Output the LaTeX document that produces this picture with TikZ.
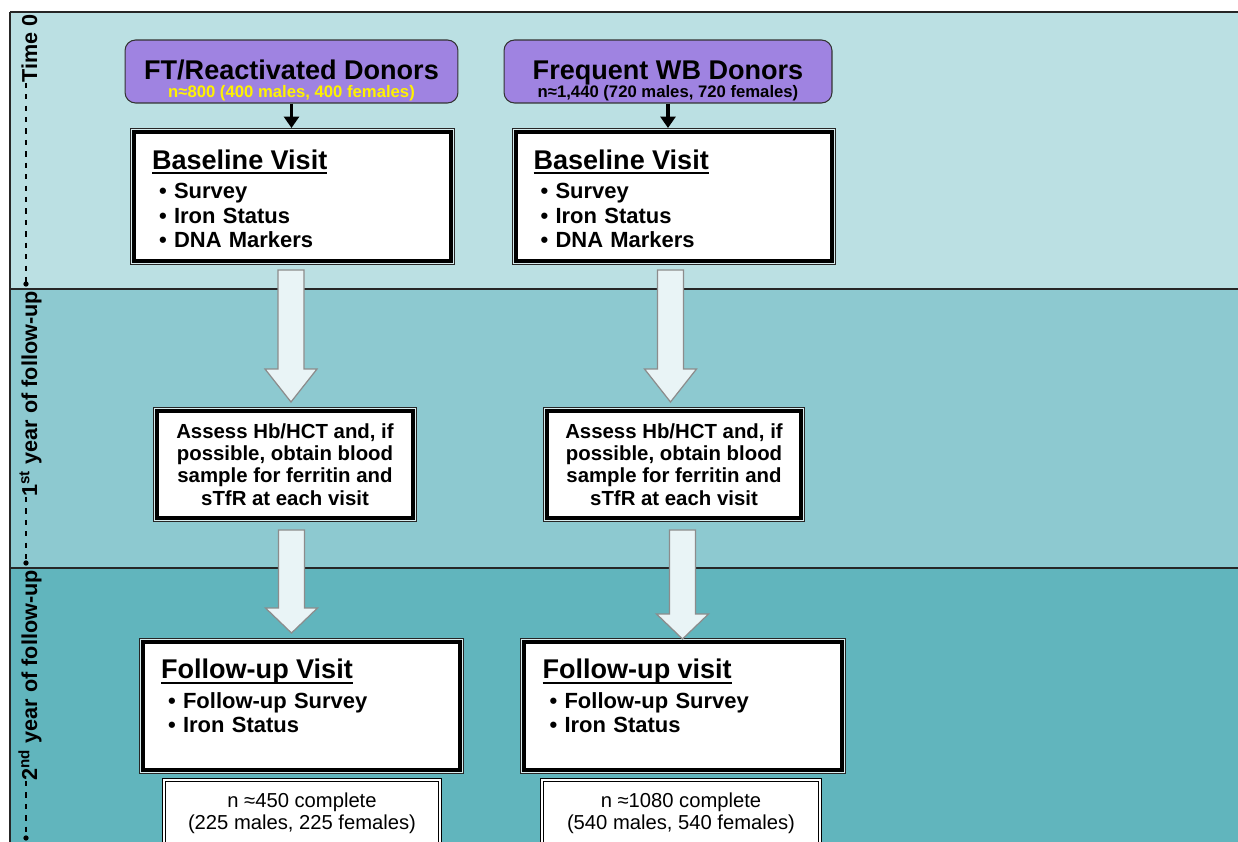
\documentclass[tikz,border=0pt]{standalone}
\usepackage{fontspec}
\setmainfont{Liberation Sans}
\usetikzlibrary{arrows.meta,calc}

\definecolor{bandA}{HTML}{BBE0E3}
\definecolor{bandB}{HTML}{8DC9D0}
\definecolor{bandC}{HTML}{61B5BD}
\definecolor{donorpurple}{HTML}{9F83E1}
\definecolor{shaftfill}{HTML}{E9F4F6}
\definecolor{framegap}{HTML}{D8ECEE}

\newcommand{\titlefont}{\fontsize{15.4}{17}\selectfont}
\newcommand{\dotitem}{\hspace*{4pt}\textbullet\ }
\newcommand{\titleul}[1]{\setbox0\hbox{#1}\rlap{\rule[-2.8pt]{\wd0}{1.1pt}}\box0}

% block arrow: x, from node, to node, top gap, tip shift, head length
\newcommand{\blockarrow}[6]{%
  \path (#1,0 |- #2.south) ++(0,#4) coordinate (ba-top)
        (#1,0 |- #3.north) ++(0,#5) coordinate (ba-tip);
  \draw[blockarr] ($(ba-top)+(-13,0)$) -- ($(ba-tip)+(-13,-#6)$) -- ($(ba-tip)+(-26,-#6)$)
    -- (ba-tip) -- ($(ba-tip)+(26,-#6)$) -- ($(ba-tip)+(13,-#6)$) -- ($(ba-top)+(13,0)$) -- cycle;}

\begin{document}
\begin{tikzpicture}[x=0.02cm, y=-0.02cm,
    bandline/.style={draw=black!85, line width=1pt},
    timeline/.style={black, line width=0.8pt, dash pattern=on 3pt off 3.5pt},
    timelabel/.style={rotate=90, anchor=base east, inner sep=0pt, font=\fontsize{12.3}{14}\selectfont\bfseries},
    donors/.style={draw=black!80, line width=0.6pt, fill=donorpurple, rounded corners=6pt, align=center,
        inner sep=1pt, minimum height=1.26cm, font=\fontsize{9.5}{10.2}\selectfont\bfseries},
    frame/.style={draw=black, line width=2.3pt, fill=white, outer sep=0pt, inner sep=0pt,
        preaction={draw=black!85, line width=0.55pt, double=framegap, double distance=3.6pt}},
    visit/.style={frame, minimum width=6.34cm, minimum height=2.58cm, text width=5.62cm, align=left,
        font=\fontsize{12.5}{13.9}\selectfont\bfseries},
    assess/.style={frame, minimum width=5.12cm, minimum height=2.14cm, align=center,
        font=\fontsize{11.6}{12.65}\selectfont\bfseries},
    complete/.style={draw=black, line width=0.5pt, double=white, double distance=1.3pt, fill=white,
        outer sep=0pt, anchor=north, inner xsep=0pt, inner ysep=7.5pt, align=center,
        font=\fontsize{11.5}{12.5}\selectfont},
    donorarrow/.style={-{Triangle[width=8.5pt,length=6.5pt]}, line width=2.2pt},
    blockarr/.style={draw=black!45, line width=0.7pt, fill=shaftfill}]

\useasboundingbox (0,0) rectangle (1238,842);
\clip (0,0) rectangle (1238,842);

% time bands
\fill[bandA] (10,12) rectangle (1238,289);
\fill[bandB] (10,289) rectangle (1238,568);
\fill[bandC] (10,568) rectangle (1238,842);
\draw[bandline] (10,12) -- (1238,12);
\draw[bandline] (10,289) -- (1238,289);
\draw[bandline] (10,568) -- (1238,568);
\draw[black!85, line width=0.6pt] (10,12) -- (10,842);

% time line
\coordinate (d1) at (26,284);
\coordinate (d2) at (26,563);
\coordinate (d3) at (26,838);
\node[timelabel] (t0) at (37,14) {Time 0};
\node[timelabel] (t1) at (37,291) {1\textsuperscript{st} year of follow-up};
\node[timelabel] (t2) at (37,570) {2\textsuperscript{nd} year of follow-up};
\draw[timeline] (d1 |- t0.west) -- (d1);
\draw[timeline] (d2 |- t1.west) -- (d2);
\draw[timeline] (d3 |- t2.west) -- (d3);
\foreach \d in {d1,d2,d3}
    \fill (\d) circle (1.5pt);

% donor groups
\node[donors, minimum width=6.66cm] (ftd) at (291.5,71.5)
    {\rule{0pt}{21.5pt}{\titlefont FT/Reactivated Donors}\\
     {\color{yellow}n≈800 (400 males, 400 females)}};
\node[donors, minimum width=6.56cm] (wbd) at (668,71.5)
    {\rule{0pt}{21.5pt}{\titlefont Frequent WB Donors}\\
     n≈1,440 (720 males, 720 females)};

% baseline
\node[visit] (bl) at (292.5,196.5)
    {{\titlefont\rule{0pt}{13.6pt}\titleul{Baseline Visit}}\\[3pt]
     \dotitem Survey\\ \dotitem Iron Status\\ \dotitem DNA Markers};
\node[visit, minimum width=6.32cm] (br) at (674,196.5)
    {{\titlefont\rule{0pt}{13.6pt}\titleul{Baseline Visit}}\\[3pt]
     \dotitem Survey\\ \dotitem Iron Status\\ \dotitem DNA Markers};
\draw[donorarrow] (ftd.south) -- ($(ftd.south |- bl.north)+(0,-4)$);
\draw[donorarrow] (wbd.south) -- ($(wbd.south |- br.north)+(0,-4)$);

% first year
\node[assess] (al) at (285,464.5)
    {Assess Hb/HCT and, if\\ possible, obtain blood\\ sample for ferritin and\\ sTfR at each visit};
\node[assess, minimum width=5.08cm] (ar) at (674,464.5)
    {Assess Hb/HCT and, if\\ possible, obtain blood\\ sample for ferritin and\\ sTfR at each visit};
\blockarrow{291}{bl}{al}{9}{-9}{33}
\blockarrow{670.5}{br}{ar}{9}{-9}{33}

% second year
\node[visit, minimum height=2.56cm] (fl) at (301.5,706)
    {{\titlefont\titleul{Follow-up Visit}}\\[3pt]
     \dotitem Follow-up Survey\\ \dotitem Iron Status\\[-6.8pt] \strut};
\node[visit, minimum width=6.36cm, minimum height=2.56cm] (fr) at (683,706)
    {{\titlefont\titleul{Follow-up visit}}\\[3pt]
     \dotitem Follow-up Survey\\ \dotitem Iron Status\\[-6.8pt] \strut};
\blockarrow{291.5}{al}{fl}{12}{-9}{25}
\blockarrow{682.5}{ar}{fr}{12}{-3}{25}

\node[complete, minimum width=5.52cm] (cl) at (302,780)
    {n ≈450 complete\\ (225 males, 225 females)};
\node[complete, minimum width=5.56cm] (cr) at (681,780)
    {n ≈1080 complete\\ (540 males, 540 females)};
\end{tikzpicture}
\end{document}
